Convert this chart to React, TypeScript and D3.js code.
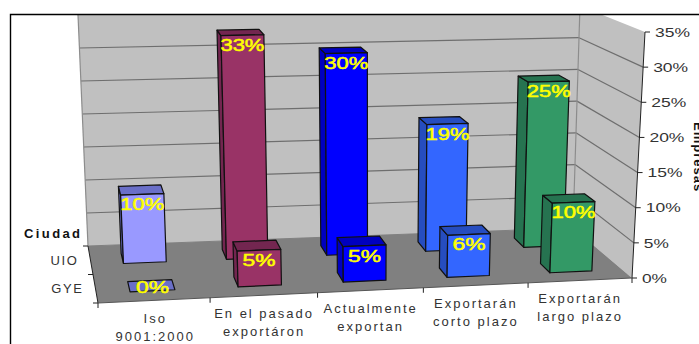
import React from "react";
import * as d3 from "d3";

// Survey results: share of companies by city and export status
const categoryLines = [
  ["Iso", "9001:2000"],
  ["En el pasado", "exportáron"],
  ["Actualmente", "exportan"],
  ["Exportarán", "corto plazo"],
  ["Exportarán", "largo plazo"],
];
const cities = ["UIO", "GYE"];
const uioValues = [10, 33, 30, 19, 25];
const gyeValues = [0, 5, 5, 6, 10];
const valueTicks = [0, 5, 10, 15, 20, 25, 30, 35];
const faceColors = ["#9999ff", "#993366", "#0000ff", "#3366ff", "#339966"];
const shadeColors = ["#6a6fc8", "#732650", "#0000bf", "#264dbf", "#267350"];

type P = [number, number];

// Corners of the chart box, as [left/right][back/front][floor/ceiling]
const corners: Record<string, P> = {
  lbb: [88, 246], lbt: [78, 15], rbb: [573, 228], rbt: [580, 6],
  lfb: [98, 303], lft: [84, 45], rfb: [632, 278], rft: [645, 32],
};

// Slight perspective: categories narrow towards the right
const catScale = d3.scalePow().exponent(0.97).domain([0, 5]).range([0, 1]);
const valScale = d3.scaleLinear().domain([0, 35]).range([0, 1]);
const mix = (a: P, b: P, t: number): P => [a[0] + (b[0] - a[0]) * t, a[1] + (b[1] - a[1]) * t];

// Trilinear mapping: category position, depth 0 (back) to 1 (front), value
function project(cat: number, depth: number, value: number): P {
  const u = catScale(cat);
  const w = valScale(value);
  const back = mix(mix(corners.lbb, corners.lbt, w), mix(corners.rbb, corners.rbt, w), u);
  const front = mix(mix(corners.lfb, corners.lft, w), mix(corners.rfb, corners.rft, w), u);
  return mix(back, front, depth);
}

const poly = d3.line<P>().curve(d3.curveLinearClosed);
const seg = (a: P, b: P) => d3.line<P>()([a, b]) ?? "";

const barOffset = 0.5;
const barHalfWidth = 0.205;
const rows = [
  { values: uioValues, d0: 0.15, d1: 0.33 },
  { values: gyeValues, d0: 0.65, d1: 0.83 },
];

const font = "'Liberation Sans', Arial, sans-serif";

function Bar({ cat, value, d0, d1 }: { cat: number; value: number; d0: number; d1: number }) {
  const c0 = cat + barOffset - barHalfWidth;
  const c1 = cat + barOffset + barHalfWidth;
  const frontFace: P[] = [project(c0, d1, 0), project(c1, d1, 0), project(c1, d1, value), project(c0, d1, value)];
  const sideFace: P[] = [project(c0, d0, 0), project(c0, d1, 0), project(c0, d1, value), project(c0, d0, value)];
  const topFace: P[] = [project(c0, d0, value), project(c1, d0, value), project(c1, d1, value), project(c0, d1, value)];
  const common = { stroke: "#111", strokeWidth: 1.2, strokeLinejoin: "round" as const };
  if (value === 0) return <path d={poly(topFace) ?? ""} fill={shadeColors[cat]} {...common} />;
  return (
    <g>
      <path d={poly(sideFace) ?? ""} fill={shadeColors[cat]} {...common} />
      <path d={poly(topFace) ?? ""} fill={shadeColors[cat]} {...common} />
      <path d={poly(frontFace) ?? ""} fill={faceColors[cat]} {...common} />
    </g>
  );
}

export default function App() {
  const cats = d3.range(5);
  return (
    <svg width={699} height={344} style={{ position: "absolute", left: 0, top: 0, background: "#fff" }}>
      <defs>
        <clipPath id="plotClip">
          <rect x={0} y={14} width={699} height={330} />
        </clipPath>
      </defs>

      <g clipPath="url(#plotClip)">
        {/* Walls and floor */}
        <path d={poly([project(0, 0, 0), project(5, 0, 0), project(5, 0, 35), project(0, 0, 35)]) ?? ""} fill="#c0c0c0" />
        <path d={poly([project(5, 0, 0), project(5, 1, 0), project(5, 1, 35), project(5, 0, 35)]) ?? ""} fill="#c0c0c0" />
        <path d={poly([project(0, 0, 0), project(5, 0, 0), project(5, 1, 0), project(0, 1, 0)]) ?? ""} fill="#808080" />

        {/* Gridlines along both walls */}
        {valueTicks.slice(1, -1).map((v) => (
          <g key={v} stroke="#6e6e6e" strokeWidth={1.2} fill="none">
            <path d={seg(project(0, 0, v), project(5, 0, v))} />
            <path d={seg(project(5, 0, v), project(5, 1, v))} />
          </g>
        ))}
        <path d={seg(project(0, 0, 0), project(0, 0, 35))} stroke="#8c8c8c" strokeWidth={1.2} />
        <path d={seg(project(5, 0, 0), project(5, 0, 35))} stroke="#8c8c8c" strokeWidth={1.2} />
        <path d={seg(project(0, 0, 0), project(5, 0, 0))} stroke="#808080" />
      </g>

      {/* Axis lines and ticks */}
      <g stroke="#222" strokeWidth={1} fill="none">
        <path d={seg(project(5, 1, 0), project(5, 1, 35))} />
        {valueTicks.map((v) => {
          const p = project(5, 1, v);
          return <path key={v} d={seg(p, [p[0] + 5, p[1]])} />;
        })}
        <path d={seg(project(0, 0, 0), project(0, 1, 0))} />
        {[0, 0.5, 1].map((d) => {
          const p = project(0, d, 0);
          return <path key={d} d={seg(p, [p[0] - 5, p[1]])} />;
        })}
        <path d={seg(project(0, 1, 0), project(5, 1, 0))} stroke="#555" />
        {d3.range(6).map((c) => {
          const p = project(c, 1, 0);
          return <path key={c} d={seg(p, [p[0], p[1] + 5])} />;
        })}
      </g>

      {/* Back row first, then the front row over it */}
      {rows.map((row, r) => (
        <g key={r}>
          {cats.map((c) => (
            <Bar key={c} cat={c} value={row.values[c]} d0={row.d0} d1={row.d1} />
          ))}
        </g>
      ))}

      {/* Value labels */}
      {rows.map((row, r) =>
        cats.map((c) => {
          const v = row.values[c];
          const left = project(c + barOffset - barHalfWidth, row.d1, v);
          const right = project(c + barOffset + barHalfWidth, row.d1, v);
          const label = `${v}%`;
          const y = v === 0 ? left[1] - 5 : (left[1] + right[1]) / 2 + 10;
          return (
            <text
              key={`${r}-${c}`}
              x={(left[0] + right[0]) / 2}
              y={y}
              dy="0.36em"
              textAnchor="middle"
              fontFamily={font}
              fontSize={16}
              fill="#ffff00"
              stroke="#ffff00"
              strokeWidth={0.5}
              textLength={(label.length + 1) * 11}
              lengthAdjust="spacingAndGlyphs"
            >
              {label}
            </text>
          );
        })
      )}

      {/* Value axis labels */}
      {valueTicks.map((v) => {
        const p = project(5, 1, v);
        const label = `${v}%`;
        return (
          <text
            key={v}
            x={p[0] + 10}
            y={p[1]}
            dy="0.36em"
            fontFamily={font}
            fontSize={13}
            fill="#333"
            textLength={label.length * 10 + 5}
            lengthAdjust="spacingAndGlyphs"
          >
            {label}
          </text>
        );
      })}

      {/* Category labels */}
      {categoryLines.map((lines, c) => {
        const p = project(c + 0.5, 1, 0);
        return lines.map((line, i) => (
          <text
            key={line + c}
            x={p[0]}
            y={p[1] + 18 + i * 18}
            dy="0.36em"
            textAnchor="middle"
            fontFamily={font}
            fontSize={13}
            letterSpacing={2}
            fill="#333"
          >
            {line}
          </text>
        ));
      })}

      {/* Depth axis labels and titles */}
      {cities.map((city, i) => {
        const p = project(0, 0.25 + i * 0.5, 0);
        return (
          <text key={city} x={p[0] - 12} y={p[1]} dy="0.36em" textAnchor="end" fontFamily={font} fontSize={13} letterSpacing={1.6} fill="#333">
            {city}
          </text>
        );
      })}
      <text x={24} y={233} dy="0.36em" fontFamily={font} fontSize={13} fontWeight="bold" letterSpacing={2.4} fill="#111">
        Ciudad
      </text>
      <text
        transform="translate(694,122) rotate(90)"
        fontFamily={font}
        fontSize={13}
        fontWeight="bold"
        letterSpacing={1}
        fill="#111"
      >
        Empresas
      </text>

      {/* Outer frame */}
      <path d="M10.5,344V14.5H699" fill="none" stroke="#000" strokeWidth={1.4} />
    </svg>
  );
}
